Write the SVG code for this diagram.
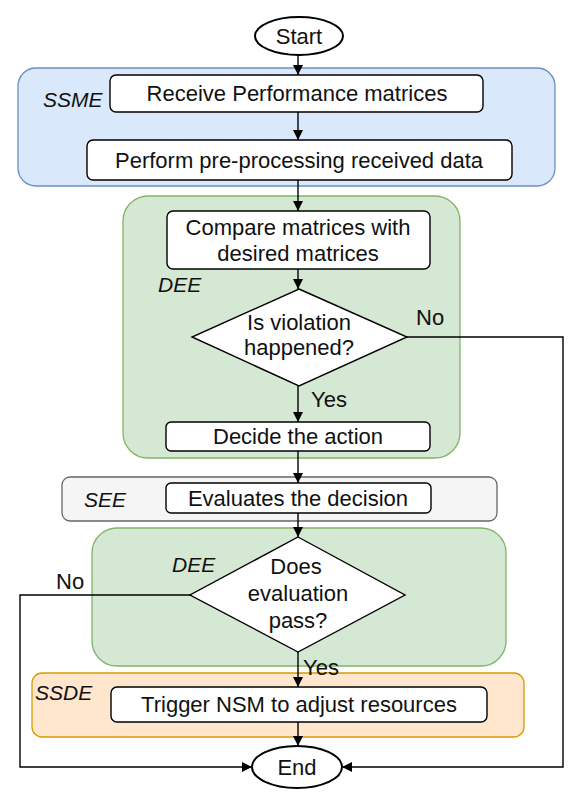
<svg xmlns="http://www.w3.org/2000/svg" width="581" height="805" viewBox="0 0 581 805">
<defs>
<marker id="ah" markerWidth="12" markerHeight="12" viewBox="0 0 12 12" refX="11" refY="6" orient="auto" markerUnits="userSpaceOnUse">
<path d="M1,1 L11,6 L1,11 Z" fill="#000"/>
</marker>
<style>
text{font-family:"Liberation Sans",Arial,sans-serif;font-size:22px;fill:#111;}
.c{text-anchor:middle;}
.lab{font-style:italic;font-size:21px;}
.box{fill:#fff;stroke:#000;stroke-width:1.4;}
.edge{fill:none;stroke:#000;stroke-width:1.4;marker-end:url(#ah);}
</style>
</defs>
<rect width="581" height="805" fill="#fff"/>
<g id="containers">
<g id="ssme"><rect x="18" y="68" width="537" height="118" rx="18" fill="#dae8fc" stroke="#6c8ebf" stroke-width="1.3"/><text class="lab" x="43" y="107">SSME</text></g>
<g id="dee1"><rect x="123" y="196" width="337" height="262" rx="25" fill="#d5e8d4" stroke="#82b366" stroke-width="1.3"/><text class="lab" x="158" y="292">DEE</text></g>
<g id="see"><rect x="62" y="477" width="435" height="44" rx="8" fill="#f5f5f5" stroke="#666666" stroke-width="1.3"/><text class="lab" x="84" y="507">SEE</text></g>
<g id="dee2"><rect x="92" y="528" width="414" height="138" rx="25" fill="#d5e8d4" stroke="#82b366" stroke-width="1.3"/><text class="lab" x="172" y="572">DEE</text></g>
<g id="ssde"><rect x="32" y="673" width="492" height="64" rx="10" fill="#ffe6cc" stroke="#d79b00" stroke-width="1.3"/><text class="lab" x="35" y="700">SSDE</text></g>
</g>
<g id="connectors">
<path class="edge" d="M298,55 V75"/>
<path class="edge" d="M298,112 V140"/>
<path class="edge" d="M298,180 V211"/>
<path class="edge" d="M298,269 V289"/>
<path class="edge" d="M298,386 V422"/>
<path class="edge" d="M298,451 V483"/>
<path class="edge" d="M298,513 V537"/>
<path class="edge" d="M298,652 V687"/>
<path class="edge" d="M298,722 V746"/>
<path class="edge" d="M407,337 H563 V767 H342"/>
<path class="edge" d="M190,595 H20 V767 H252"/>
<text x="416" y="325">No</text>
<text x="311" y="407">Yes</text>
<text x="56" y="589">No</text>
<text x="303" y="675">Yes</text>
</g>
<g id="start"><ellipse cx="299" cy="36" rx="44" ry="19" fill="#fff" stroke="#000" stroke-width="2"/><text class="c" x="299" y="44">Start</text></g>
<g id="receive"><rect class="box" x="110" y="75" width="373" height="37" rx="6"/><text class="c" x="297" y="101">Receive Performance matrices</text></g>
<g id="perform"><rect class="box" x="87" y="140" width="425" height="40" rx="6"/><text class="c" x="299" y="168">Perform pre-processing received data</text></g>
<g id="compare"><rect class="box" x="167" y="211" width="263" height="58" rx="6"/><text class="c" x="298" y="235">Compare matrices with</text><text class="c" x="298" y="261">desired matrices</text></g>
<g id="violation"><path class="box" d="M299,289 L407,337 L299,386 L192,337 Z"/><text class="c" x="299" y="330">Is violation</text><text class="c" x="299" y="355">happened?</text></g>
<g id="decide"><rect class="box" x="166" y="422" width="264" height="29" rx="5"/><text class="c" x="298" y="444">Decide the action</text></g>
<g id="evaluates"><rect class="box" x="166" y="483" width="265" height="30" rx="5"/><text class="c" x="298" y="506">Evaluates the decision</text></g>
<g id="pass"><path class="box" d="M298,537 L405,595 L298,652 L190,595 Z"/><text class="c" x="296" y="574">Does</text><text class="c" x="298" y="601">evaluation</text><text class="c" x="298" y="628">pass?</text></g>
<g id="trigger"><rect class="box" x="111" y="687" width="376" height="35" rx="6"/><text class="c" x="299" y="712">Trigger NSM to adjust resources</text></g>
<g id="end"><ellipse cx="297" cy="767" rx="45" ry="21" fill="#fff" stroke="#000" stroke-width="2"/><text class="c" x="297" y="775">End</text></g>
</svg>
